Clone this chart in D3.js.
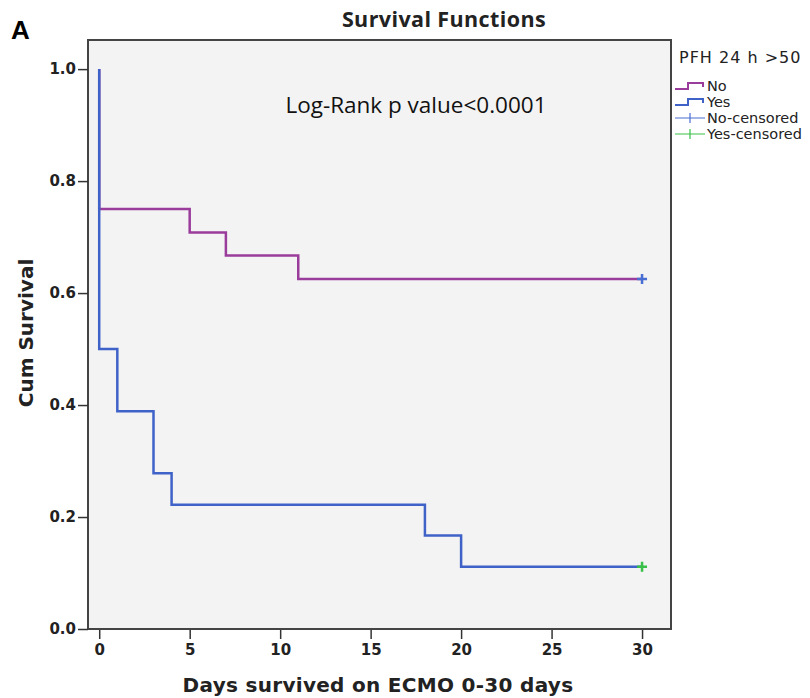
<!DOCTYPE html>
<html lang="en">
<head>
<meta charset="UTF-8">
<title>Survival Functions</title>
<script src="https://d3js.org/d3.v7.min.js"></script>
<style>
  body { margin: 0; background: #fff; }
  .tick text { font-family: "DejaVu Sans", sans-serif; font-weight: bold; font-size: 15px; fill: #222; }
  .tick line { stroke: #333; stroke-width: 1.5px; }
</style>
</head>
<body>
<div id="chart"></div>
<script>
// Kaplan-Meier steps: [day, cumulative survival]
const noSteps = [[0, 1.0], [0, 0.75], [5, 0.708], [7, 0.667], [11, 0.625], [30, 0.625]];
const yesSteps = [[0, 1.0], [0, 0.5], [1, 0.389], [3, 0.278], [4, 0.222], [18, 0.167], [20, 0.111], [30, 0.111]];
const noCensored = [[30, 0.625]];
const yesCensored = [[30, 0.111]];
const xTicks = [0, 5, 10, 15, 20, 25, 30];
const yTicks = [0.0, 0.2, 0.4, 0.6, 0.8, 1.0];
const legendItems = ["No", "Yes", "No-censored", "Yes-censored"];

const width = 810, height = 698;
const plotL = 88, plotR = 671, plotT = 40, plotB = 629;

const purple = "#9a3c9c", blue = "#3f62c8", censBlue = "#4a6fd2", green = "#38c048";

const svg = d3.select("#chart").append("svg")
    .attr("width", width)
    .attr("height", height);

const x = d3.scaleLinear().domain([-0.62, 31.6]).range([plotL, plotR]);
const y = d3.scaleLinear().domain([0, 1.052]).range([plotB, plotT]);

// panel letter and title
svg.append("text")
    .attr("x", 11).attr("y", 39)
    .style("font-family", "Liberation Sans, Arial, sans-serif")
    .style("font-weight", "bold").style("font-size", "26px")
    .text("A");

svg.append("text")
    .attr("x", 444).attr("y", 27)
    .attr("text-anchor", "middle")
    .style("font-family", "Open Sans, sans-serif")
    .style("font-weight", "bold").style("font-size", "21.5px")
    .style("letter-spacing", "0.4px")
    .style("fill", "#222")
    .text("Survival Functions");

// plot background
svg.append("rect")
    .attr("x", plotL).attr("y", plotT)
    .attr("width", plotR - plotL).attr("height", plotB - plotT)
    .attr("fill", "#f3f3f3")
    .attr("stroke", "#444").attr("stroke-width", 2);

// axes
svg.append("g")
    .attr("transform", `translate(${plotL},0)`)
    .call(d3.axisLeft(y).tickValues(yTicks).tickFormat(d3.format(".1f")).tickSize(10).tickPadding(2))
    .call(g => g.select(".domain").remove());

svg.append("g")
    .attr("transform", `translate(0,${plotB + 1})`)
    .call(d3.axisBottom(x).tickValues(xTicks).tickSize(9).tickPadding(5))
    .call(g => g.select(".domain").remove());

// axis titles
svg.append("text")
    .attr("x", 378).attr("y", 692)
    .attr("text-anchor", "middle")
    .style("font-family", "DejaVu Sans, sans-serif")
    .style("font-weight", "bold").style("font-size", "20px")
    .style("letter-spacing", "0.3px")
    .style("fill", "#222")
    .text("Days survived on ECMO 0-30 days");

svg.append("text")
    .attr("transform", "translate(33,333) rotate(-90)")
    .attr("text-anchor", "middle")
    .style("font-family", "DejaVu Sans, sans-serif")
    .style("font-weight", "bold").style("font-size", "20px")
    .style("fill", "#222")
    .text("Cum Survival");

// survival curves
const line = d3.line()
    .x(d => x(d[0]))
    .y(d => y(d[1]))
    .curve(d3.curveStepAfter);

svg.append("path")
    .datum(noSteps)
    .attr("d", line)
    .attr("fill", "none")
    .attr("stroke", purple)
    .attr("stroke-width", 2.5);

svg.append("path")
    .datum(yesSteps)
    .attr("d", line)
    .attr("fill", "none")
    .attr("stroke", blue)
    .attr("stroke-width", 2.5);

// censor marks
function cross(g, data, color, s, w) {
    g.selectAll(null).data(data).enter().append("path")
        .attr("d", d => `M${x(d[0]) - s},${y(d[1])}H${x(d[0]) + s}M${x(d[0])},${y(d[1]) - s}V${y(d[1]) + s}`)
        .attr("stroke", color)
        .attr("stroke-width", w);
}
cross(svg, noCensored, censBlue, 5, 2.5);
cross(svg, yesCensored, green, 5, 2.5);

// log-rank annotation
svg.append("text")
    .attr("x", 416).attr("y", 113)
    .attr("text-anchor", "middle")
    .style("font-family", "Open Sans, sans-serif")
    .style("font-size", "22.5px")
    .style("fill", "#111")
    .text("Log-Rank p value<0.0001");

// legend
const lg = svg.append("g").attr("transform", "translate(675,0)");
lg.append("text")
    .attr("x", 4).attr("y", 63)
    .style("font-family", "DejaVu Sans, sans-serif")
    .style("font-size", "16px")
    .style("letter-spacing", "1px")
    .style("fill", "#222")
    .text("PFH 24 h >50");

const legendColors = [purple, blue, censBlue, green];
legendItems.forEach((name, i) => {
    const cy = 86 + i * 16;
    if (i < 2) {
        lg.append("path")
            .attr("d", `M0,${cy + 3}H13V${cy - 3}H28V${cy + 1}`)
            .attr("fill", "none")
            .attr("stroke", legendColors[i])
            .attr("stroke-width", 2);
    } else {
        lg.append("path")
            .attr("d", `M0,${cy}H30M15,${cy - 5}V${cy + 5}`)
            .attr("stroke", legendColors[i])
            .attr("stroke-width", 1.2);
    }
    lg.append("text")
        .attr("x", 32).attr("y", cy + 5)
        .style("font-family", "DejaVu Sans, sans-serif")
        .style("font-size", "14.5px")
        .style("fill", "#222")
        .text(name);
});
</script>
</body>
</html>
